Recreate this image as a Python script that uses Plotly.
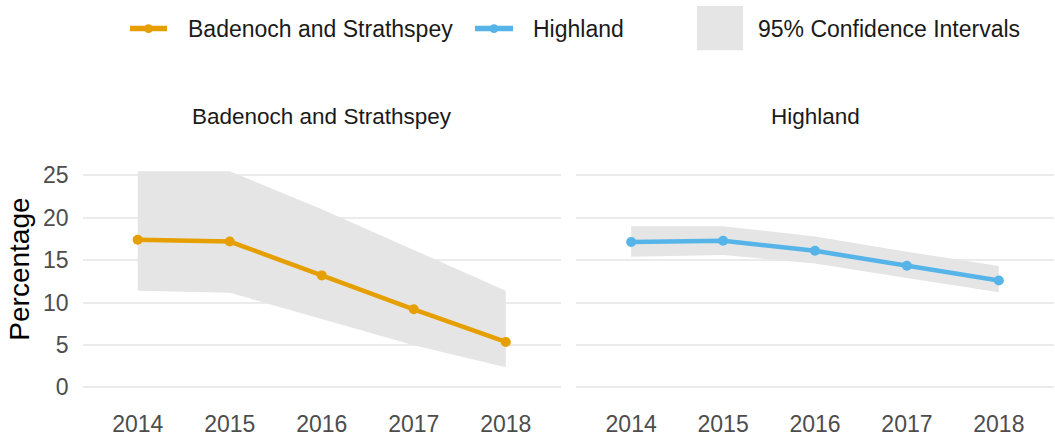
import plotly.graph_objects as go

years = [2014, 2015, 2016, 2017, 2018]
bs_values = [17.4, 17.2, 13.2, 9.2, 5.35]
bs_upper = [25.5, 25.5, 21.0, 16.2, 11.4]
bs_lower = [11.4, 11.15, 8.05, 4.95, 2.35]
hl_values = [17.15, 17.3, 16.1, 14.35, 12.6]
hl_upper = [19.0, 19.0, 17.8, 16.0, 14.3]
hl_lower = [15.4, 15.6, 14.6, 12.9, 11.2]
y_ticks = [0, 5, 10, 15, 20, 25]
panel_titles = ["Badenoch and Strathspey", "Highland"]
ORANGE = "#E69F00"
BLUE = "#56B4E9"
CI = "#E5E5E5"
W, H = 1055, 437
FONT = "Liberation Sans, Arial"

fig = go.Figure()

def add_panel(xa, ya, vals, up, lo, color):
    fig.add_trace(go.Scatter(x=years + years[::-1], y=up + lo[::-1], fill="toself",
                             fillcolor=CI, line=dict(width=0), mode="lines",
                             xaxis=xa, yaxis=ya, showlegend=False, hoverinfo="skip"))
    fig.add_trace(go.Scatter(x=years, y=vals, mode="lines+markers",
                             line=dict(color=color, width=4.5), marker=dict(color=color, size=10),
                             xaxis=xa, yaxis=ya, showlegend=False))

add_panel("x", "y", bs_values, bs_upper, bs_lower, ORANGE)
add_panel("x2", "y2", hl_values, hl_upper, hl_lower, BLUE)

ydom = [1 - 400 / H, 1 - 165 / H]
yrange = [-1.22, 26.07]
xrange = [2013.4, 2018.6]
tickfont = dict(family=FONT, size=23, color="#4D4D4D")
xcommon = dict(range=xrange, tickvals=years, showgrid=False, zeroline=False, showline=False,
               tickfont=tickfont, ticks="", ticklabelstandoff=10, fixedrange=True)
ycommon = dict(range=yrange, domain=ydom, tickvals=y_ticks, showgrid=True, gridcolor="#EBEBEB",
               gridwidth=2, zeroline=False, showline=False, ticks="", tickfont=tickfont)

fig.update_layout(
    width=W, height=H,
    margin=dict(l=0, r=0, t=0, b=0),
    paper_bgcolor="white", plot_bgcolor="white",
    xaxis=dict(domain=[82.5 / W, 561 / W], anchor="y", **xcommon),
    xaxis2=dict(domain=[576 / W, 1054 / W], anchor="y2", **xcommon),
    yaxis=dict(anchor="x", ticklabelstandoff=13, **ycommon),
    yaxis2=dict(anchor="x2", showticklabels=False, **ycommon),
    showlegend=False,
)

anns = []
anns.append(dict(text="Percentage", x=20 / W, y=1 - 270 / H, xref="paper", yref="paper",
                 showarrow=False, textangle=-90, xanchor="center", yanchor="middle",
                 font=dict(family=FONT, size=28, color="black")))
for title, cx in zip(panel_titles, [322, 815]):
    anns.append(dict(text=title, x=cx / W, y=1 - 114 / H, xref="paper", yref="paper",
                     showarrow=False, xanchor="center", yanchor="middle",
                     font=dict(family=FONT, size=22.5, color="#1A1A1A")))

legfont = dict(family=FONT, size=23, color="#1A1A1A")
shapes = []
ly = 1 - 25 / H
for (x0, x1, col, label, tx) in [(130, 167, ORANGE, "Badenoch and Strathspey", 186),
                                 (475, 513, BLUE, "Highland", 531)]:
    shapes.append(dict(type="line", xref="paper", yref="paper", x0=x0 / W, x1=x1 / W, y0=ly, y1=ly,
                       line=dict(color=col, width=5.5)))
    cxm = (x0 + x1) / 2
    shapes.append(dict(type="circle", xref="paper", yref="paper", x0=(cxm - 4.5) / W, x1=(cxm + 4.5) / W,
                       y0=ly - 4.5 / H, y1=ly + 4.5 / H, fillcolor=col, line=dict(width=0)))
    anns.append(dict(text=label, x=tx / W, y=ly, xref="paper", yref="paper", showarrow=False,
                     xanchor="left", yanchor="middle", font=legfont))
shapes.append(dict(type="rect", xref="paper", yref="paper", x0=697 / W, x1=743 / W,
                   y0=1 - 47 / H, y1=1 - 2 / H, fillcolor=CI, line=dict(width=0)))
anns.append(dict(text="95% Confidence Intervals", x=756 / W, y=ly, xref="paper", yref="paper",
                 showarrow=False, xanchor="left", yanchor="middle", font=legfont))

fig.update_layout(annotations=anns, shapes=shapes)
fig.write_html("out.html", config={"displayModeBar": False},
               post_script="document.body.style.margin='0px';")
